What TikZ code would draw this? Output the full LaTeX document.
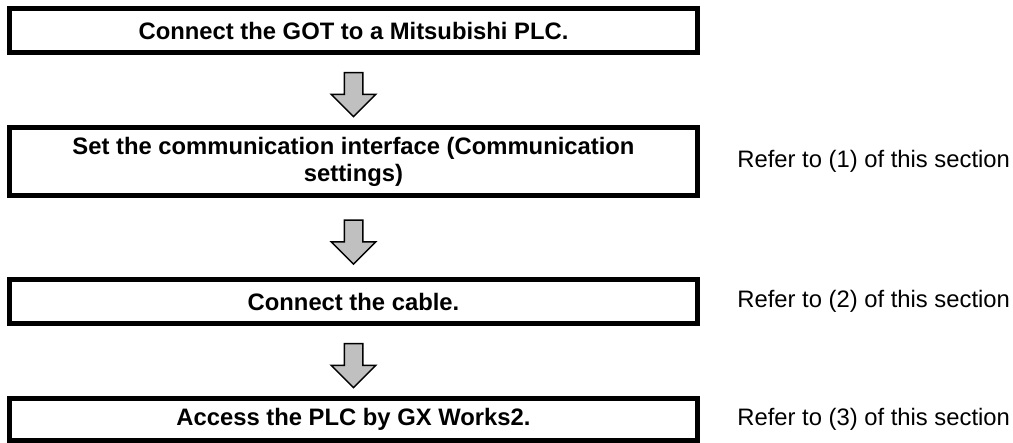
\documentclass[tikz,border=0pt]{standalone}
\usepackage{fontspec}
\setmainfont{Liberation Sans}
\usetikzlibrary{shapes.arrows, calc}
\definecolor{arrowgray}{RGB}{192, 192, 192}

\tikzset{
  stepbox/.style={draw, line width=2.5pt, minimum width=344pt, align=center,
    inner sep=0pt, font=\bfseries\fontsize{11.9}{13.5}\selectfont},
  flowarrow/.style={single arrow, draw, fill=arrowgray, line width=0.75pt,
    rotate=-90, inner sep=4.25pt, single arrow head extend=6.5pt,
    minimum height=22pt},
  refnote/.style={anchor=west, inner sep=0pt, font=\fontsize{11.9}{13.5}\selectfont}
}

\begin{document}
\begin{tikzpicture}[x=0.5pt, y=-0.5pt]
  \useasboundingbox (0,0) rectangle (1013,443);

  % steps
  \node[stepbox, minimum height=22pt] (connect) at (353.5,30.5) {Connect the GOT to a Mitsubishi PLC.};
  \node[stepbox, minimum height=34pt] (setif) at (353.5,161.5) {Set the communication interface (Communication\\settings)};
  \node[stepbox, minimum height=22pt] (cable) at (353.5,301.5) {Connect the cable.};
  \node[stepbox, minimum height=21pt] (access) at (353.5,419.5) {Access the PLC by GX Works2.};

  % arrows between steps
  \node[flowarrow] (arrowa) at ($(connect.south)!0.5!(setif.north)$) {};
  \node[flowarrow] (arrowb) at ($(setif.south)!0.5!(cable.north)$) {};
  \node[flowarrow] (arrowc) at ($(cable.south)!0.5!(access.north)$) {};

  % references
  \node[refnote] (refa) at (737,161.5) {Refer to (1) of this section};
  \node[refnote] (refb) at (737,301.5) {Refer to (2) of this section};
  \node[refnote] (refc) at (737,419.5) {Refer to (3) of this section};
\end{tikzpicture}
\end{document}
